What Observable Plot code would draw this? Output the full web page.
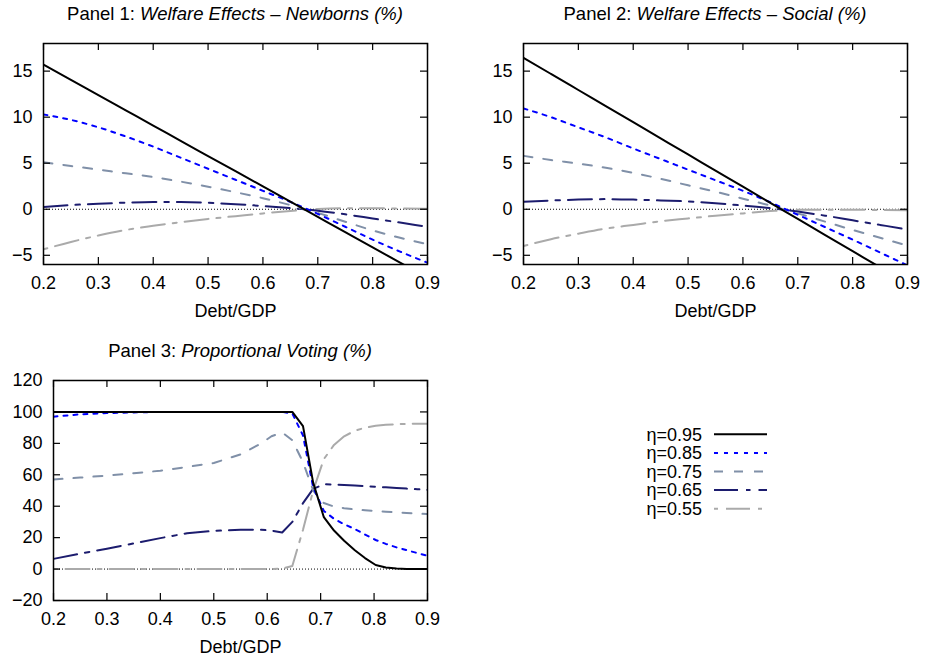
<!DOCTYPE html>
<html><head><meta charset="utf-8">
<script src="https://cdn.jsdelivr.net/npm/d3@7"></script>
<script src="https://cdn.jsdelivr.net/npm/@observablehq/plot@0.6"></script>
<style>
body{margin:0;background:#fff;font-family:"Liberation Sans",Arial,sans-serif;}
#wrap{position:relative;width:930px;height:662px;overflow:hidden;background:#fff;}
.panel{position:absolute;}
.title{position:absolute;font-size:18.5px;line-height:18.5px;text-align:center;white-space:nowrap;color:#000;}
</style></head><body><div id="wrap"></div>
<script>
// ---------- data ----------
const etaLabels = ["η=0.95", "η=0.85", "η=0.75", "η=0.65", "η=0.55"];
const colors = ["#000000", "#0000ff", "#8090a8", "#1c1c6e", "#aaaaaa"];
const dashes = [null, "4,6", "9,11", "24,8,4.5,8", "4,8,24,8"];

const xTicks = [0.2, 0.3, 0.4, 0.5, 0.6, 0.7, 0.8, 0.9];
const yTicks12 = [-5, 0, 5, 10, 15];
const yTicks3 = [-20, 0, 20, 40, 60, 80, 100, 120];

const x12 = [0.2, 0.25, 0.3, 0.35, 0.4, 0.45, 0.5, 0.55, 0.6, 0.65, 0.7, 0.75, 0.8, 0.85, 0.9];

// Panel 1: Welfare Effects – Newborns (%)
const p1_095 = [15.7, 14.05, 12.39, 10.74, 9.09, 7.43, 5.78, 4.13, 2.48, 0.82, -0.83, -2.48, -4.13, -5.79, -7.44];
const p1_085 = [10.3, 9.7, 8.9, 7.9, 6.8, 5.6, 4.4, 3.2, 2.0, 0.8, -0.5, -1.9, -3.3, -4.6, -5.8];
const p1_075 = [5.1, 4.7, 4.3, 3.9, 3.5, 3.0, 2.45, 1.85, 1.2, 0.45, -0.4, -1.35, -2.3, -3.1, -3.8];
const p1_065 = [0.25, 0.45, 0.6, 0.72, 0.8, 0.78, 0.7, 0.55, 0.35, 0.12, -0.15, -0.55, -1.0, -1.45, -1.9];
const p1_055 = [-4.35, -3.55, -2.85, -2.25, -1.8, -1.4, -1.05, -0.75, -0.45, -0.18, 0.02, 0.1, 0.1, 0.08, 0.05];

// Panel 2: Welfare Effects – Social (%)
const p2_095 = [16.45, 14.7, 12.95, 11.2, 9.45, 7.7, 5.95, 4.2, 2.45, 0.7, -1.05, -2.8, -4.55, -6.3, -8.05];
const p2_085 = [10.95, 10.0, 8.9, 7.8, 6.6, 5.45, 4.3, 3.15, 2.0, 0.75, -0.6, -1.95, -3.3, -4.7, -6.1];
const p2_075 = [5.8, 5.35, 4.95, 4.5, 3.95, 3.3, 2.6, 1.9, 1.15, 0.4, -0.45, -1.35, -2.25, -3.1, -3.95];
const p2_065 = [0.8, 0.95, 1.05, 1.1, 1.05, 0.95, 0.85, 0.65, 0.4, 0.12, -0.25, -0.7, -1.2, -1.7, -2.2];
const p2_055 = [-4.0, -3.25, -2.65, -2.1, -1.7, -1.3, -1.0, -0.7, -0.45, -0.2, -0.05, -0.05, -0.05, -0.08, -0.1];

// Panel 3: Proportional Voting (%)
const x3 = [0.2, 0.25, 0.3, 0.35, 0.4, 0.45, 0.5, 0.55, 0.589, 0.608, 0.628, 0.647, 0.667, 0.686, 0.706, 0.725, 0.744, 0.764, 0.783, 0.803, 0.822, 0.842, 0.861, 0.881, 0.9];
const p3_095 = [100, 100, 100, 100, 100, 100, 100, 100, 100, 100, 100, 100, 91, 55, 33, 24.5, 18, 12, 7, 2.6, 1.0, 0.4, 0.1, 0, 0];
const p3_085 = [97, 98.5, 99.3, 99.7, 100, 100, 100, 100, 100, 100, 100, 99, 85, 52, 37, 32, 28.5, 25.5, 22, 18.5, 16, 13.8, 12, 10.2, 8.5];
const p3_075 = [57, 58.2, 59.5, 61, 62.6, 65, 67.5, 73, 80, 84.5, 87, 82, 68, 50, 42, 39.8, 38.7, 38, 37.4, 36.9, 36.5, 36.1, 35.7, 35.3, 35];
const p3_065 = [6.5, 9.8, 13, 16.3, 19.7, 22.8, 24.3, 25, 25, 24.5, 23.3, 30, 42, 51, 54, 53.8, 53.5, 53.2, 52.8, 52.4, 52, 51.6, 51.2, 50.8, 50.4];
const p3_055 = [0, 0, 0, 0, 0, 0, 0, 0, 0, 0, 0.3, 2, 25, 50, 70, 79, 84.5, 88, 90, 91.2, 91.8, 92.2, 92.4, 92.5, 92.5];

// ---------- drawing ----------
const wrap = document.getElementById("wrap");
const FONT = "Liberation Sans, Arial, sans-serif";

function makePanel(cfg) {
  const {left, top, width, height, mL, mR, mT, mB, yDomain, yTicks, xs, series, curve, title, titleItalic, titleTop} = cfg;
  const plotW = width - mL - mR;
  const plotH = height - mT - mB;
  const lines = series.map((vals, k) => Plot.line(
    xs.map((x, i) => ({x, y: vals[i]})),
    {x: "x", y: "y", stroke: colors[k], strokeWidth: 2, strokeDasharray: dashes[k], curve, clip: true}
  ));
  const plot = Plot.plot({
    width, height, marginLeft: mL, marginRight: mR, marginTop: mT, marginBottom: mB,
    style: {fontFamily: FONT, fontSize: "18px", background: "transparent", overflow: "visible", color: "#000"},
    x: {domain: [0.2, 0.9]},
    y: {domain: yDomain},
    marks: [
      Plot.ruleY([0], {stroke: "#000", strokeWidth: 1, strokeDasharray: "1,2"}),
      ...lines.slice().reverse(),
      Plot.tickX(xTicks, {x: d => d, insetTop: plotH - 7, stroke: "#000", strokeWidth: 1.2}),
      Plot.tickX(xTicks, {x: d => d, insetBottom: plotH - 7, stroke: "#000", strokeWidth: 1.2}),
      Plot.tickY(yTicks, {y: d => d, insetRight: plotW - 7, stroke: "#000", strokeWidth: 1.2}),
      Plot.tickY(yTicks, {y: d => d, insetLeft: plotW - 7, stroke: "#000", strokeWidth: 1.2}),
      Plot.frame({stroke: "#000", strokeWidth: 1.5}),
      Plot.axisX(xTicks, {tickSize: 0, tickPadding: 12, tickFormat: d => d.toFixed(1), label: "Debt/GDP", labelAnchor: "center", labelOffset: 52, labelArrow: "none", fill: "#000"}),
      Plot.axisY(yTicks, {tickSize: 0, tickPadding: 11, label: null, fill: "#000"})
    ]
  });
  const div = document.createElement("div");
  div.className = "panel";
  div.style.left = left + "px";
  div.style.top = top + "px";
  div.appendChild(plot);
  wrap.appendChild(div);

  const t = document.createElement("div");
  t.className = "title";
  t.style.left = (left + mL) + "px";
  t.style.width = plotW + "px";
  t.style.top = titleTop + "px";
  t.innerHTML = title + "<i>" + titleItalic + "</i>";
  wrap.appendChild(t);
}

makePanel({left: 0, top: 0, width: 465, height: 330, mL: 43, mR: 38, mT: 43, mB: 66,
  yDomain: [-6, 18], yTicks: yTicks12, xs: x12, series: [p1_095, p1_085, p1_075, p1_065, p1_055],
  curve: "monotone-x", title: "Panel 1: ", titleItalic: "Welfare Effects – Newborns (%)", titleTop: 5});

makePanel({left: 465, top: 0, width: 465, height: 330, mL: 58, mR: 23, mT: 43, mB: 66,
  yDomain: [-6, 18], yTicks: yTicks12, xs: x12, series: [p2_095, p2_085, p2_075, p2_065, p2_055],
  curve: "monotone-x", title: "Panel 2: ", titleItalic: "Welfare Effects – Social (%)", titleTop: 5});

makePanel({left: 0, top: 330, width: 465, height: 332, mL: 53, mR: 38, mT: 50, mB: 62,
  yDomain: [-20, 120], yTicks: yTicks3, xs: x3, series: [p3_095, p3_085, p3_075, p3_065, p3_055],
  curve: "linear", title: "Panel 3: ", titleItalic: "Proportional Voting (%)", titleTop: 341.5});

// legend
const leg = d3.create("svg").attr("width", 200).attr("height", 110)
  .style("position", "absolute").style("left", "600px").style("top", "420px")
  .style("font-family", FONT).style("font-size", "18px");
etaLabels.forEach((lab, i) => {
  const y = 14.3 + i * 18.6;
  leg.append("text").attr("x", 102).attr("y", y).attr("dy", "0.35em").attr("text-anchor", "end").attr("fill", "#000").text(lab);
  leg.append("line").attr("x1", 114).attr("x2", 167).attr("y1", y).attr("y2", y)
    .attr("stroke", colors[i]).attr("stroke-width", 2).attr("stroke-dasharray", dashes[i]);
});
wrap.appendChild(leg.node());
</script>
</body></html>
